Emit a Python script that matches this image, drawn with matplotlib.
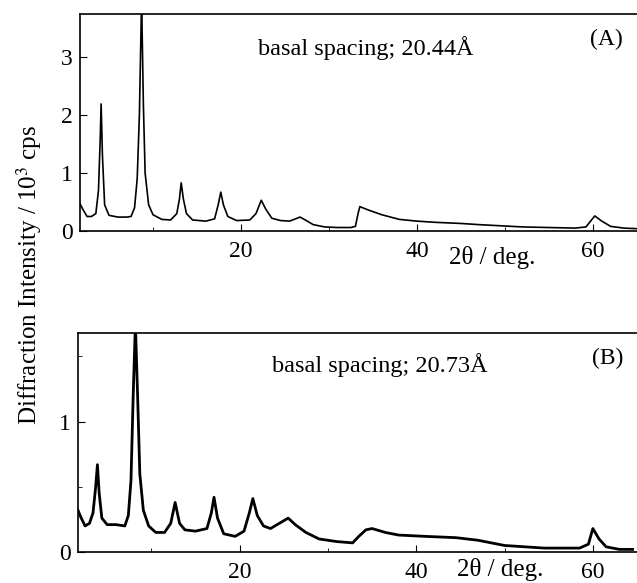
import matplotlib
matplotlib.use("Agg")
import matplotlib.pyplot as plt
from matplotlib.ticker import MultipleLocator, FixedLocator

plt.rcParams['font.family'] = ['Liberation Serif', 'DejaVu Serif']
plt.rcParams['mathtext.fontset'] = 'stix'

# Panel A: 2theta (deg) and intensity (10^3 cps)
two_theta_A = [1.7, 2.0, 2.5, 3.0, 3.5, 3.8, 4.0, 4.1, 4.25, 4.5, 5.0, 6.0, 7.0, 7.5, 7.9, 8.2, 8.45,
               8.7, 8.9, 9.1, 9.5, 10.0, 11.0, 12.0, 12.7, 13.0, 13.2, 13.45, 13.8, 14.5, 16.0, 17.0,
               17.4, 17.7, 18.0, 18.5, 19.5, 21.0, 21.7, 22.3, 22.8, 23.5, 24.5, 25.5, 26.2, 26.7,
               27.3, 28.2, 29.5, 31.0, 32.5, 33.0, 33.3, 33.5, 34.5, 36.0, 38.0, 40.0, 42.0, 45.0,
               47.0, 49.5, 52.0, 55.0, 58.0, 59.2, 60.2, 61.0, 62.0, 63.5, 65.0]
intensity_A = [0.47, 0.38, 0.25, 0.25, 0.30, 0.70, 1.60, 2.19, 1.30, 0.45, 0.27, 0.24, 0.24, 0.25, 0.40,
               0.90, 2.00, 4.00, 2.20, 1.00, 0.45, 0.28, 0.20, 0.19, 0.30, 0.55, 0.83, 0.55, 0.30, 0.19,
               0.17, 0.21, 0.45, 0.67, 0.45, 0.25, 0.18, 0.19, 0.30, 0.53, 0.38, 0.22, 0.18, 0.17, 0.21,
               0.24, 0.19, 0.11, 0.07, 0.06, 0.06, 0.08, 0.30, 0.42, 0.36, 0.28, 0.20, 0.17, 0.15, 0.13,
               0.11, 0.09, 0.07, 0.06, 0.05, 0.07, 0.26, 0.17, 0.08, 0.05, 0.04]

# Panel B
two_theta_B = [1.7, 2.0, 2.5, 3.0, 3.4, 3.7, 3.9, 4.1, 4.4, 5.0, 6.0, 7.0, 7.4, 7.7, 7.95, 8.2, 8.45,
               8.7, 9.1, 9.7, 10.5, 11.5, 12.2, 12.7, 13.2, 13.8, 15.0, 16.3, 16.8, 17.1, 17.5, 18.2,
               19.5, 20.5, 21.1, 21.5, 22.0, 22.7, 23.5, 24.5, 25.5, 26.3, 27.5, 29.0, 31.0, 32.8,
               33.5, 34.3, 35.0, 36.5, 38.0, 41.0, 44.5, 47.0, 50.0, 54.5, 58.5, 59.5, 60.0, 60.7,
               61.5, 63.0, 64.5]
intensity_B = [0.32, 0.27, 0.20, 0.22, 0.30, 0.50, 0.67, 0.45, 0.26, 0.21, 0.21, 0.20, 0.28, 0.55, 1.20,
               1.75, 1.20, 0.60, 0.32, 0.20, 0.15, 0.15, 0.22, 0.38, 0.22, 0.17, 0.16, 0.18, 0.30, 0.42,
               0.26, 0.14, 0.12, 0.16, 0.30, 0.41, 0.28, 0.20, 0.18, 0.22, 0.26, 0.21, 0.15, 0.10, 0.08,
               0.07, 0.12, 0.17, 0.18, 0.15, 0.13, 0.12, 0.11, 0.09, 0.05, 0.03, 0.03, 0.06, 0.18, 0.10,
               0.04, 0.02, 0.02]

labels = ["basal spacing; 20.44Å", "basal spacing; 20.73Å"]
panel_tags = ["(A)", "(B)"]

W, H = 637, 583
fig = plt.figure(figsize=(W / 100, H / 100), dpi=100)

axA = fig.add_axes([80 / W, 1 - 231 / H, 1 - 80 / W, (231 - 14) / H])
axB = fig.add_axes([78 / W, 1 - 552 / H, 1 - 78 / W, (552 - 333) / H])

for ax, x, y, ylim, lw in [(axA, two_theta_A, intensity_A, (0, 3.74), 1.2),
                           (axB, two_theta_B, intensity_B, (0, 1.68), 2.0)]:
    ax.plot(x, y, color='black', lw=lw)
    ax.set_xlim(1.7, 65)
    ax.set_ylim(*ylim)
    ax.spines['right'].set_visible(False)
    for s in ['left', 'top', 'bottom']:
        ax.spines[s].set_linewidth(1.2)
    ax.xaxis.set_major_locator(FixedLocator([20, 40, 60]))
    ax.xaxis.set_minor_locator(FixedLocator([10, 30, 50]))
    ax.tick_params(which='both', direction='in', top=False, right=False, labelsize=17)
    ax.tick_params(axis='x', which='major', pad=7)
    ax.tick_params(axis='y', which='major', pad=5)
    ax.tick_params(which='major', length=5)
    ax.tick_params(which='minor', length=3)

axA.yaxis.set_major_locator(MultipleLocator(1))
axB.yaxis.set_major_locator(MultipleLocator(1))
axB.yaxis.set_minor_locator(FixedLocator([0.5, 1.5]))

fig.text(258 / W, 1 - 55 / H, labels[0], fontsize=17.5, ha='left', va='baseline')
fig.text(590 / W, 1 - 45 / H, panel_tags[0], fontsize=17, ha='left', va='baseline')
fig.text(272 / W, 1 - 372 / H, labels[1], fontsize=17.5, ha='left', va='baseline')
fig.text(592 / W, 1 - 364 / H, panel_tags[1], fontsize=17, ha='left', va='baseline')

fig.text(449 / W, 1 - 264 / H, "2θ / deg.", fontsize=18, ha='left', va='baseline')
fig.text(457 / W, 1 - 576 / H, "2θ / deg.", fontsize=18, ha='left', va='baseline')

fig.text(29 / W, 1 - 275 / H, r"Diffraction Intensity / 10$^3$ cps", rotation=90,
         fontsize=18, ha='center', va='center')

fig.savefig("out.png", dpi=100)
